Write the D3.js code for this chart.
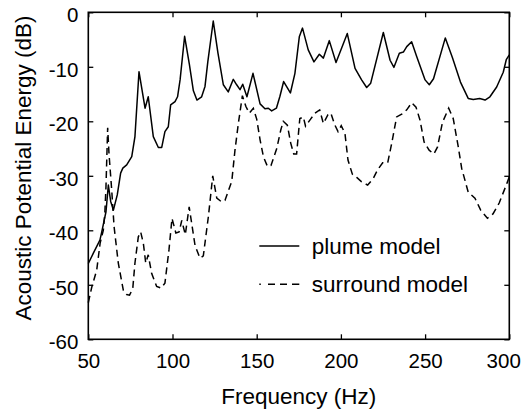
<!DOCTYPE html>
<html>
<head>
<meta charset="utf-8">
<script src="https://cdn.jsdelivr.net/npm/d3@7"></script>
<style>
html,body{margin:0;padding:0;background:#fff;}
svg text{font-family:"Liberation Sans",Arial,Helvetica,sans-serif;fill:#000;}
</style>
</head>
<body>
<svg id="chart" width="524" height="412"></svg>
<script>
const xTicks = [50,100,150,200,250,300];
const yTicks = [0,-10,-20,-30,-40,-50,-60];
const seriesNames = ["plume model","surround model"];

const plumeFreq = [50,53,56.9,58,60.5,61.9,63.3,64.9,67.2,69.2,70.5,72.8,75.8,77.7,80.1,83.7,85.6,88.6,91.6,93.6,95.5,97.5,98.9,101.5,103,104.5,107.2,110,112.4,114.5,117.3,119.3,121,124.2,127,130.2,133.1,136.1,138.1,140.1,141.7,144.2,147.8,152,154.9,156.9,158.9,161.7,163.8,166,170,172.7,175.3,177.2,180.6,184,187.2,189.6,193.1,197.1,203.8,208.4,212.3,215.3,217.7,225.2,229.2,231.5,234.7,237.1,239.1,242,245,250,252.5,255,262,266.2,271,275.6,278.6,282.4,285.6,288.5,292.5,296.4,298.2,300];
const plumeDB = [-46.1,-44.2,-41.8,-40.3,-36.6,-31.7,-34.7,-36.3,-33.5,-29.5,-28.6,-28,-26.5,-22.8,-10.9,-17.6,-15.5,-22.8,-24.8,-24.8,-21.9,-21,-17,-16.4,-15.5,-12.4,-4.4,-9.5,-14.4,-16.1,-15.5,-13.6,-9,-1.6,-7.5,-13.3,-14.6,-12.3,-13.3,-14.2,-13.2,-15.5,-11.2,-16.8,-17.7,-17.6,-18.1,-17.6,-15.4,-12.7,-14.8,-11.2,-4.5,-2.9,-6.9,-9.1,-7.7,-8.4,-5.2,-9.2,-3.9,-10.3,-12.4,-13.8,-13,-3.7,-8.8,-10.1,-7.5,-7.3,-6.3,-5.4,-8.1,-12.4,-13.3,-12.2,-4.7,-8.3,-12.8,-15.8,-16,-15.8,-16.1,-15.5,-13.7,-11,-8.7,-7.8];

const surroundFreq = [50,52,55,57,58.9,59.8,60.5,61.5,62.3,63.9,65.3,67.8,70.8,72.8,74.5,76.4,77.7,79.7,81.1,82.7,84.1,85.6,87.6,90.6,93.2,95.5,97.9,99.7,102,103.9,105.5,107.6,109.9,113.4,116.3,118.3,121.3,123.9,126.3,129.2,131.2,135.2,137.1,139.1,141.5,143.6,145.6,148,150,152,154,156.4,158.5,161.9,164.3,165.8,168.2,170.2,172,173.7,175.6,177.7,179,182,184.6,187.4,189.6,192.3,194,196.3,198.3,200.2,202.4,204.2,206.8,209.4,212.3,215.9,219.2,221.8,224.8,227.8,230.2,233.1,236.1,239.1,242,244.6,247,249.4,252.4,255.2,257.4,260.3,264,266.7,269.7,271.7,275.6,279.6,283,287,290.3,294,297.8,300];
const surroundDB = [-53.3,-50.5,-47.3,-42.4,-40,-37,-32,-21.2,-26,-32.6,-39.3,-46,-51,-51.8,-51.9,-50.7,-46,-41.2,-40.3,-42.4,-46,-44.5,-47.9,-50.3,-50.6,-49.7,-43.6,-37.8,-40.5,-40.3,-38.2,-40.8,-35.7,-42.8,-45.1,-44.7,-37.5,-30,-34.1,-34.8,-34.5,-31,-25.3,-20.4,-15.3,-17.3,-18.5,-17.6,-19.6,-23.4,-26.5,-28.3,-28.1,-25,-21.6,-20,-20.7,-24,-26,-26,-19.5,-19.2,-20.9,-19.6,-18.5,-17.9,-20.4,-18.8,-18.5,-20.6,-21.9,-20.8,-22.2,-27.1,-29.7,-30.3,-31.1,-31.7,-30.5,-28.9,-27.6,-27.6,-24,-19.2,-18.7,-17.9,-16.6,-17.4,-19.8,-23.8,-25.3,-26,-24.7,-20.2,-17.6,-19.5,-24.7,-28.6,-33,-34.1,-36.3,-37.8,-37,-35,-32,-30.2];

const svg = d3.select("#chart");
const L = 88.3, R = 509.3, T = 12.3, B = 339.3;
const x = d3.scaleLinear().domain([50,300]).range([L,R]);
const y = d3.scaleLinear().domain([-60,0]).range([B,T]);
const tickLen = 5;

// axes
const fmt = d => String(d);
const gB = svg.append("g").attr("transform",`translate(0,${B})`)
  .call(d3.axisBottom(x).tickValues(xTicks).tickFormat(fmt).tickSizeInner(-tickLen).tickSizeOuter(0).tickPadding(14));
const gT = svg.append("g").attr("transform",`translate(0,${T})`)
  .call(d3.axisTop(x).tickValues(xTicks).tickFormat("").tickSizeInner(-tickLen).tickSizeOuter(0));
const gL = svg.append("g").attr("transform",`translate(${L},0)`)
  .call(d3.axisLeft(y).tickValues(yTicks).tickFormat(fmt).tickSizeInner(-tickLen).tickSizeOuter(0).tickPadding(10));
const gR = svg.append("g").attr("transform",`translate(${R},0)`)
  .call(d3.axisRight(y).tickValues(yTicks).tickFormat("").tickSizeInner(-tickLen).tickSizeOuter(0));
[gB,gT,gL,gR].forEach(g=>{
  g.select(".domain").remove();
  g.selectAll(".tick line").attr("stroke","#000").attr("stroke-width",1.3);
  g.selectAll("text").attr("font-size",20.5).attr("font-family",'"Liberation Sans",Arial,sans-serif').attr("fill","#000");
});
gB.selectAll(".tick text").attr("dy","0.71em");
// last label is pulled inside the page edge, as in the reference
gB.selectAll(".tick text").filter(d => d === xTicks[xTicks.length-1])
  .attr("text-anchor","end").attr("dx", 11);
gL.selectAll(".tick text").attr("dy","0.47em");

// frame
svg.append("rect").attr("x",L).attr("y",T).attr("width",R-L).attr("height",B-T)
  .attr("fill","none").attr("stroke","#000").attr("stroke-width",1.6);

// lines
const line = d3.line().x(d=>x(d[0])).y(d=>y(d[1]));
const plume = plumeFreq.map((f,i)=>[f,plumeDB[i]]);
const surround = surroundFreq.map((f,i)=>[f,surroundDB[i]]);
svg.append("path").datum(surround).attr("d",line).attr("fill","none")
  .attr("stroke","#000").attr("stroke-width",1.5).attr("stroke-dasharray","7,4.5");
svg.append("path").datum(plume).attr("d",line).attr("fill","none")
  .attr("stroke","#000").attr("stroke-width",1.5).attr("stroke-linejoin","round");

// legend
const lg = svg.append("g");
lg.append("line").attr("x1",259.3).attr("x2",299.3).attr("y1",246).attr("y2",246)
  .attr("stroke","#000").attr("stroke-width",1.4);
lg.append("line").attr("x1",259.3).attr("x2",299.3).attr("y1",284.3).attr("y2",284.3)
  .attr("stroke","#000").attr("stroke-width",1.4).attr("stroke-dasharray","1.5,7.2,7,5,7,5,7.5");
lg.append("text").attr("x",311.7).attr("y",253.8).attr("font-size",22.5).text(seriesNames[0]);
lg.append("text").attr("x",311.7).attr("y",292).attr("font-size",22.5).text(seriesNames[1]);

// axis titles
svg.append("text").attr("x",(L+R)/2).attr("y",403.5).attr("text-anchor","middle")
  .attr("font-size",22.5).text("Frequency (Hz)");
svg.append("text").attr("transform","translate(31,168) rotate(-90)").attr("text-anchor","middle")
  .attr("font-size",22.5).text("Acoustic Potential Energy (dB)");
</script>
</body>
</html>
